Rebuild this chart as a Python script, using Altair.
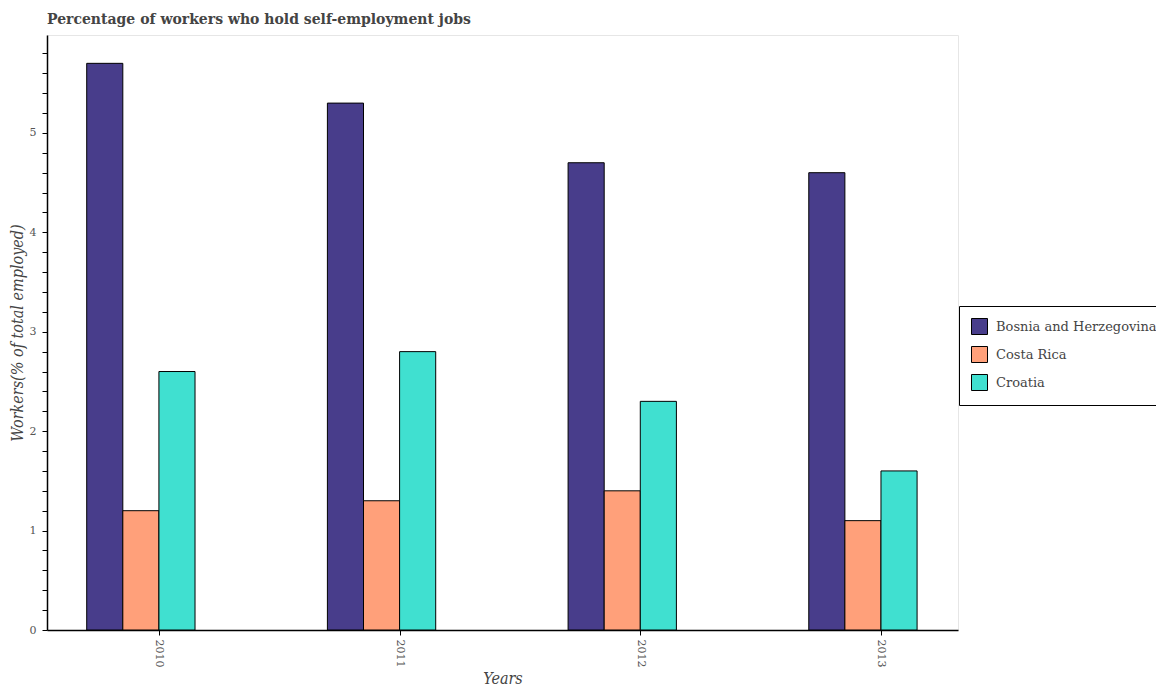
import altair as alt
import pandas as pd

years = [2010, 2011, 2012, 2013]
countries = ["Bosnia and Herzegovina", "Costa Rica", "Croatia"]
bosnia = [5.7, 5.3, 4.7, 4.6]
costa_rica = [1.2, 1.3, 1.4, 1.1]
croatia = [2.6, 2.8, 2.3, 1.6]
colors = ["#483D8B", "#FFA07A", "#40E0D0"]
y_ticks = [round(i * 0.2, 1) for i in range(30)]

series = {"Bosnia and Herzegovina": bosnia, "Costa Rica": costa_rica, "Croatia": croatia}
offsets = {"Bosnia and Herzegovina": -0.3, "Costa Rica": -0.15, "Croatia": 0.0}
bw = 0.15
rows = []
for c in countries:
    for yr, v in zip(years, series[c]):
        rows.append({"Year": yr, "Country": c, "Value": v, "Base": 0,
                     "x0": yr + offsets[c], "x1": yr + offsets[c] + bw})
df = pd.DataFrame(rows)

serif = "DejaVu Serif"
cond = "DejaVu Serif Condensed"

chart = alt.Chart(df).mark_bar(stroke="black", strokeWidth=1).encode(
    x=alt.X("x0:Q",
            scale=alt.Scale(domain=[2009.535, 2013.32], nice=False, zero=False),
            axis=alt.Axis(values=years, format="d", labelAngle=90, title="Years",
                          labelFont=serif, labelFontSize=11, labelColor="#555",
                          titleFont=cond, titleFontStyle="italic", titleFontWeight="normal",
                          titleFontSize=16, titleColor="#444", titlePadding=4,
                          domainColor="black", domainWidth=1.5, tickColor="black",
                          tickSize=5, grid=False, labelPadding=4, labelBaseline="middle",
                          labelAlign="left")),
    x2="x1:Q",
    y=alt.Y("Value:Q",
            scale=alt.Scale(domain=[0, 5.985], nice=False),
            axis=alt.Axis(values=y_ticks,
                          labelExpr="datum.value % 1 == 0 ? format(datum.value, 'd') : ''",
                          title="Workers(% of total employed)",
                          labelFont=serif, labelFontSize=11, labelColor="#555",
                          titleFont=cond, titleFontStyle="italic", titleFontWeight="normal",
                          titleFontSize=16, titleColor="#444", titlePadding=4,
                          domainColor="black", domainWidth=1.5, tickColor="black",
                          tickSize=5, grid=False, labelPadding=6)),
    y2="Base:Q",
    color=alt.Color("Country:N",
                    scale=alt.Scale(domain=countries, range=colors),
                    legend=alt.Legend(title=None, orient="none", legendX=912, legendY=271,
                                      strokeColor="black", fillColor="white", padding=12,
                                      symbolType="square", symbolSize=256,
                                      symbolStrokeColor="black", symbolStrokeWidth=1,
                                      symbolOpacity=1,
                                      labelFont=serif, labelFontSize=13, labelColor="#444",
                                      rowPadding=7, labelOffset=8, labelLimit=300)),
).properties(
    width=911, height=595,
    title=alt.TitleParams("Percentage of workers who hold self-employment jobs",
                          anchor="start", frame="group", font=serif, fontSize=14,
                          fontWeight="bold", color="#444", offset=8),
    autosize=alt.AutoSizeParams(type="none"),
    padding={"left": 39, "top": 27, "right": 198, "bottom": 62},
).configure_view(stroke="#e6e6e6", strokeWidth=1)

chart.save("out.html", embed_options={"renderer": "svg", "actions": False})
